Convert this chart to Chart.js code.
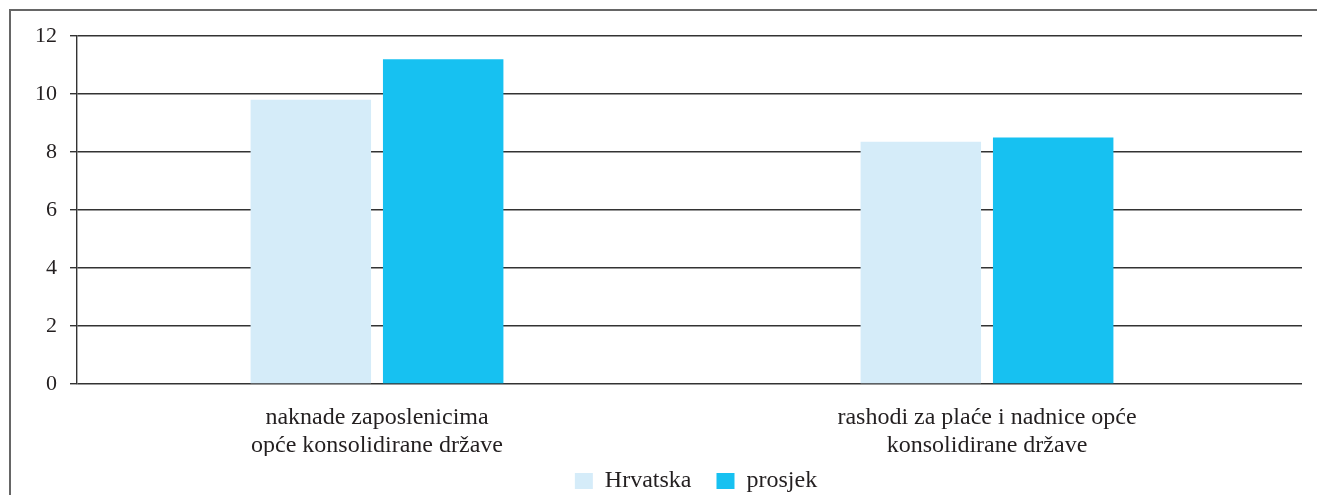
<!DOCTYPE html>
<html>
<head>
<meta charset="utf-8">
<script src="https://cdn.jsdelivr.net/npm/chart.js@4"></script>
<style>
    html, body { margin: 0; padding: 0; background: #fff; }
    body { width: 1317px; height: 495px; position: relative; overflow: hidden; }
    #frame { position: absolute; left: 9px; top: 9px; width: 1330px; height: 500px; border-left: 2px solid #666; border-top: 2px solid #666; }
    #wrap { position: absolute; left: 0; top: 0; width: 1317px; height: 495px; }
</style>
</head>
<body>
<div id="frame"></div>
<div id="wrap"><canvas id="chart"></canvas></div>
<script>
// Categories, series and axis ticks
const categories = [
    ['naknade zaposlenicima', 'opće konsolidirane države'],
    ['rashodi za plaće i nadnice opće', 'konsolidirane države']
];
const hrvatska = [9.8, 8.35];
const prosjek = [11.2, 8.5];
const yTicks = [0, 2, 4, 6, 8, 10, 12];

const family = '"Liberation Serif", "Times New Roman", serif';
const textColor = '#231f20';

// nudge legend and category band to where the original has them
const layoutTweak = {
    id: 'layoutTweak',
    afterLayout(chart) {
        const lg = chart.legend;
        lg.top -= 12;
        lg.bottom -= 12;
        lg.left += 45;
        lg.right += 45;

        const x = chart.scales.x;
        x.left -= 5;
        x.right -= 10;
        x.width = x.right - x.left;
        x.configure();
    }
};

const ctx = document.getElementById('chart').getContext('2d');
new Chart(ctx, {
    type: 'bar',
    data: {
        labels: categories,
        datasets: [
            { label: 'Hrvatska', data: hrvatska, backgroundColor: '#D5ECF9' },
            { label: 'prosjek', data: prosjek, backgroundColor: '#17C1F1' }
        ]
    },
    plugins: [layoutTweak],
    options: {
        responsive: true,
        maintainAspectRatio: false,
        animation: false,
        categoryPercentage: 0.434,
        barPercentage: 0.91,
        layout: { padding: { top: 36, right: 15, left: 0, bottom: -20 } },
        plugins: {
            tooltip: { enabled: false },
            legend: {
                position: 'bottom',
                labels: {
                    font: { family: family, size: 24 },
                    color: textColor,
                    boxWidth: 18,
                    boxHeight: 16,
                    padding: 25
                }
            }
        },
        scales: {
            x: {
                grid: { display: false, drawTicks: false },
                border: { display: false },
                ticks: { font: { family: family, size: 24, lineHeight: 1.17 }, color: textColor, padding: 20, maxRotation: 0 },
                afterFit: axis => { axis.height = 72; }
            },
            y: {
                min: 0,
                max: 12,
                afterBuildTicks: axis => { axis.ticks = yTicks.map(v => ({ value: v })); },
                afterFit: axis => { axis.width = 77; },
                grid: { color: '#333', lineWidth: 1.4, tickLength: 7 },
                border: { display: true, color: '#333', width: 1.4 },
                ticks: { font: { family: family, size: 22 }, color: textColor, padding: 13 }
            }
        }
    }
});
</script>
</body>
</html>
